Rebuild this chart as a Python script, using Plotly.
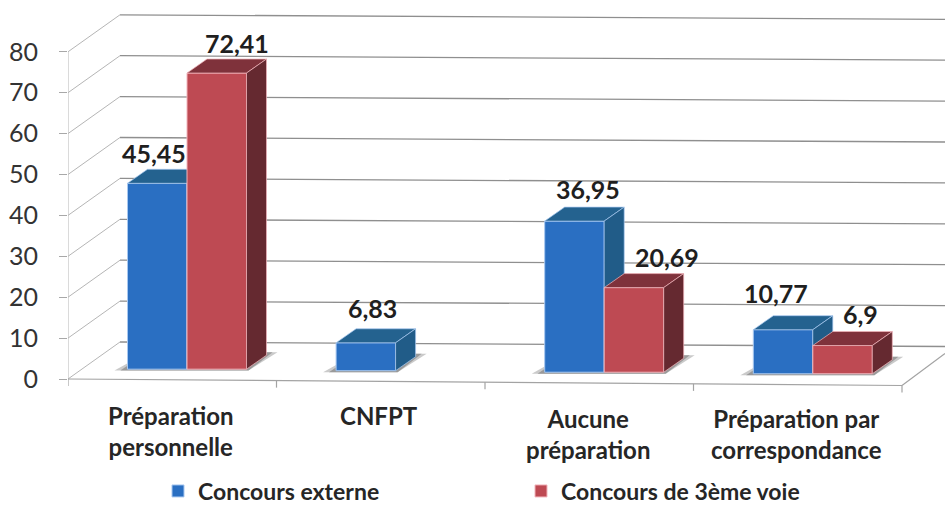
import plotly.graph_objects as go

# --- data ---
categories = ["Préparation<br>personnelle", "CNFPT", "Aucune<br>préparation", "Préparation par<br>correspondance"]
externe = [45.45, 6.83, 36.95, 10.77]
troisieme = [72.41, None, 20.69, 6.9]
externe_text = ["45,45", "6,83", "36,95", "10,77"]
troisieme_text = ["72,41", "", "20,69", "6,9"]
y_ticks = [0, 10, 20, 30, 40, 50, 60, 70, 80]

# --- geometry of the pseudo-3D view (axis units) ---
PX_X, PX_Y = 208.6, 4.09      # pixels per axis unit
X0_PX, Y0_PX = 187, 379       # pixel of x=0 / y=0
W, H = 945, 505
BAR_W = 59.5 / PX_X
DX, DY = 20 / PX_X, 14 / PX_Y  # bar depth
WALL_DX, WALL_DY = 52 / PX_X, 9.05  # chart depth
X_LEFT = (68 - X0_PX) / PX_X
X_RIGHT = (945 - X0_PX) / PX_X
X_FLOOR = (902 - X0_PX) / PX_X
TILT_BACK, TILT_BAR = 0.28, 0.372
FLOOR0 = 2.4

x_range = [X_LEFT, X_RIGHT]
y_range = [(Y0_PX - H) / PX_Y, Y0_PX / PX_Y]
xs = list(range(len(categories)))
bases = [FLOOR0 - TILT_BAR * x for x in xs]

GRID = "#8f8f8f"
WALL = "#b5b5b5"
TXT = "#262626"
BLUE = dict(front="#2A6FC2", top="#24628F", side="#215C88", edge="#A8C8F0")
RED = dict(front="#BE4A53", top="#7F323B", side="#652930", edge="#F2B5BC")

fig = go.Figure()

# back wall grid and left wall
gx, gy, wx, wy = [], [], [], []
for v in y_ticks:
    gx += [X_LEFT + WALL_DX, X_RIGHT, None]
    gy += [v + WALL_DY, v + WALL_DY - TILT_BACK * (X_RIGHT - X_LEFT - WALL_DX), None]
    wx += [X_LEFT, X_LEFT + WALL_DX, None]
    wy += [v, v + WALL_DY, None]
wx += [X_LEFT, X_LEFT]
wy += [0, 80]
base_style = dict(mode="lines", hoverinfo="skip", showlegend=False)
fig.add_trace(go.Scatter(x=wx, y=wy, line=dict(color=WALL, width=1), **base_style))
fig.add_trace(go.Scatter(x=gx, y=gy, line=dict(color=GRID, width=1.3), **base_style))

# floor front edge, ticks and right edge
def front_y(x):
    return -(x - X_LEFT) * 6.5 / (X_FLOOR - X_LEFT) / PX_Y

fx = [X_LEFT, X_FLOOR, None, X_FLOOR, X_RIGHT, None]
fy = [0, front_y(X_FLOOR), None, front_y(X_FLOOR), front_y(X_FLOOR) + 32 / PX_Y, None]
for i in range(len(categories) + 1):
    tx = X_LEFT + (X_FLOOR - X_LEFT) * i / len(categories)
    fx += [tx, tx, None]
    fy += [front_y(tx), front_y(tx) - 7 / PX_Y, None]
fig.add_trace(go.Scatter(x=fx, y=fy, line=dict(color="#a3a3a3", width=1.2), **base_style))

# shadows below each group
for i, x in enumerate(xs):
    left = x - BAR_W if externe[i] is not None else x
    right = x + BAR_W if troisieme[i] is not None else x
    b = bases[i]
    for grow, op in ((1.0, 0.45), (0.55, 0.75)):
        px = [left - grow * 13 / PX_X, right + 2 / PX_X, right + DX + grow * 11 / PX_X, left + DX]
        py = [b - 0.35, b - 0.35, b + 17 / PX_Y, b + 17 / PX_Y]
        fig.add_trace(go.Scatter(x=px + px[:1], y=py + py[:1], fill="toself", fillcolor="#8a8a8a",
                                 line=dict(width=0), opacity=op, **base_style))

# a series: front faces are bars, depth faces follow from the same values
def add_series(name, values, colours, offset, axis):
    xa, ya = "x" + axis, "y" + axis
    fig.add_trace(go.Bar(x=xs, y=values, base=bases, width=BAR_W, offset=offset, name=name,
                         marker=dict(color=colours["front"], line=dict(color=colours["edge"], width=1)),
                         xaxis=xa, yaxis=ya))
    for i, v in enumerate(values):
        if v is None:
            continue
        xl = xs[i] + offset
        xr = xl + BAR_W
        t = bases[i] + v
        for poly, col in (
            (([xl, xl + DX, xr + DX, xr, xl], [t, t + DY, t + DY, t, t]), colours["top"]),
            (([xr, xr + DX, xr + DX, xr, xr], [t, t + DY, bases[i] + DY, bases[i], t]), colours["side"]),
        ):
            fig.add_trace(go.Scatter(x=poly[0], y=poly[1], fill="toself", fillcolor=col, mode="lines",
                                     line=dict(color=colours["edge"], width=0.7),
                                     hoverinfo="skip", showlegend=False, xaxis=xa, yaxis=ya))

add_series("Concours externe", externe, BLUE, -BAR_W, "2")
add_series("Concours de 3ème voie", troisieme, RED, 0, "3")

# value labels: offsets (px) from the centre-top of each bar
ext_shift = [(-3, 30), (7, 35), (14, 32), (-7, 37)]
tro_shift = [(20, 30), (0, 0), (33, 31), (18, 32)]
annots = []
for vals, texts, shifts, off in ((externe, externe_text, ext_shift, -BAR_W / 2),
                                 (troisieme, troisieme_text, tro_shift, BAR_W / 2)):
    for i, v in enumerate(vals):
        if v is None:
            continue
        annots.append(dict(x=xs[i] + off, y=bases[i] + v, xref="x", yref="y", text=texts[i], showarrow=False,
                           xshift=shifts[i][0], yshift=shifts[i][1],
                           font=dict(family="Lato", size=25, color="#1f1f1f", weight="bold")))

# category labels
cat_x_px = [170, 379, 587.5, 796.5]
cat_y_px = [431, 415, 433.5, 434]
for c, cx, cy in zip(categories, cat_x_px, cat_y_px):
    annots.append(dict(x=(cx - X0_PX) / PX_X, y=(Y0_PX - cy) / PX_Y, xref="x", yref="y", text=c, showarrow=False,
                       font=dict(family="Lato", size=24, color=TXT, weight="bold"), align="center"))

hidden = dict(visible=False, range=x_range, fixedrange=True)
hidden_y = dict(visible=False, range=y_range, fixedrange=True)
fig.update_layout(
    width=W, height=H, margin=dict(l=68, r=0, t=0, b=0, autoexpand=False),
    paper_bgcolor="white", plot_bgcolor="white",
    font=dict(family="Lato", color=TXT),
    annotations=annots,
    xaxis=dict(visible=False, range=x_range, fixedrange=True),
    yaxis=dict(range=y_range, tickmode="array", tickvals=y_ticks, ticks="outside", ticklen=8, tickcolor="#a8a8a8",
               tickfont=dict(family="Lato", size=25, color="#333333"), showgrid=False, zeroline=False,
               showline=False, ticklabelstandoff=16, fixedrange=True),
    xaxis2=dict(overlaying="x", **hidden), yaxis2=dict(overlaying="y", **hidden_y),
    xaxis3=dict(overlaying="x", **hidden), yaxis3=dict(overlaying="y", **hidden_y),
    legend=dict(orientation="h", x=(158 - 68) / (W - 68), y=(H - 491) / H, xanchor="left", yanchor="middle",
                entrywidth=318, entrywidthmode="pixels", traceorder="normal",
                font=dict(family="Lato", size=23, color=TXT, weight="bold"), bgcolor="rgba(0,0,0,0)"),
)
fig.write_html("out.html", config={"displayModeBar": False},
               post_script="document.body.style.margin='0';document.body.style.overflow='hidden';")
